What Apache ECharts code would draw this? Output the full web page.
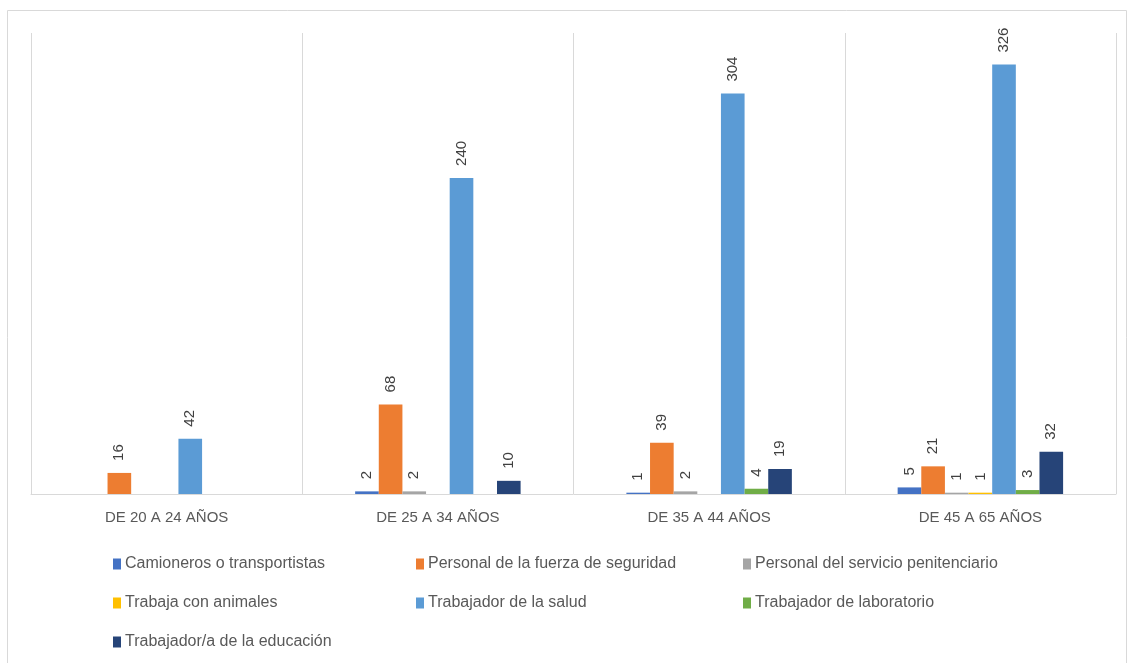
<!DOCTYPE html>
<html>
<head>
<meta charset="utf-8">
<script src="https://cdn.jsdelivr.net/npm/echarts@6/dist/echarts.min.js"></script>
<style>
  html, body { margin: 0; padding: 0; background: #fff; }
  #chart { width: 1129px; height: 663px; }
</style>
</head>
<body>
<div id="chart"></div>
<script>
var categories = ['DE 20 A 24 AÑOS', 'DE 25 A 34 AÑOS', 'DE 35 A 44 AÑOS', 'DE 45 A 65 AÑOS'];
var seriesNames = [
    'Camioneros o transportistas',
    'Personal de la fuerza de seguridad',
    'Personal del servicio penitenciario',
    'Trabaja con animales',
    'Trabajador de la salud',
    'Trabajador de laboratorio',
    'Trabajador/a de la educación'
];
var camioneros = ['-', 2, 1, 5];
var fuerza = [16, 68, 39, 21];
var penitenciario = ['-', 2, 2, 1];
var animales = ['-', '-', '-', 1];
var salud = [42, 240, 304, 326];
var laboratorio = ['-', '-', 4, 3];
var educacion = ['-', 10, 19, 32];
var colors = ['#4472C4', '#ED7D31', '#A5A5A5', '#FFC000', '#5B9BD5', '#70AD47', '#264478'];

var values = [camioneros, fuerza, penitenciario, animales, salud, laboratorio, educacion];

var series = seriesNames.map(function (name, i) {
    return {
        name: name,
        type: 'bar',
        data: values[i],
        barGap: '0%',
        barCategoryGap: '39%',
        itemStyle: { color: colors[i] },
        label: {
            show: true,
            position: 'top',
            rotate: 90,
            align: 'left',
            verticalAlign: 'middle',
            distance: 12,
            color: '#404040',
            fontSize: 15,
            fontFamily: 'Liberation Sans'
        }
    };
});

function legendCol(left, names) {
    return {
        orient: 'vertical',
        left: left,
        top: 551,
        itemGap: 23,
        itemWidth: 8,
        itemHeight: 11,
        icon: 'rect',
        data: names,
        textStyle: { color: '#595959', fontSize: 16, fontFamily: 'Liberation Sans', padding: [0, 0, 0, -1] }
    };
}

var myChart = echarts.init(document.getElementById('chart'));
var option = {
    animation: false,
    color: colors,
    graphic: [{
        type: 'rect',
        shape: { x: 7.5, y: 10.5, width: 1119, height: 660 },
        style: { fill: 'none', stroke: '#d9d9d9', lineWidth: 1 }
    }],
    grid: { left: 31, right: 13, top: 33, bottom: 169 },
    legend: [
        legendCol(108, [seriesNames[0], seriesNames[3], seriesNames[6]]),
        legendCol(411, [seriesNames[1], seriesNames[4]]),
        legendCol(738, [seriesNames[2], seriesNames[5]])
    ],
    xAxis: {
        type: 'category',
        data: categories,
        axisLine: { lineStyle: { color: '#d9d9d9', width: 1 } },
        axisTick: { show: false },
        splitLine: { show: true, lineStyle: { color: '#d9d9d9', width: 1 } },
        axisLabel: {
            color: '#595959',
            fontSize: 15,
            fontFamily: 'Liberation Sans',
            margin: 16
        }
    },
    yAxis: {
        type: 'value',
        min: 0,
        max: 350,
        show: false,
        splitLine: { show: false }
    },
    series: series
};
myChart.setOption(option);
</script>
</body>
</html>
